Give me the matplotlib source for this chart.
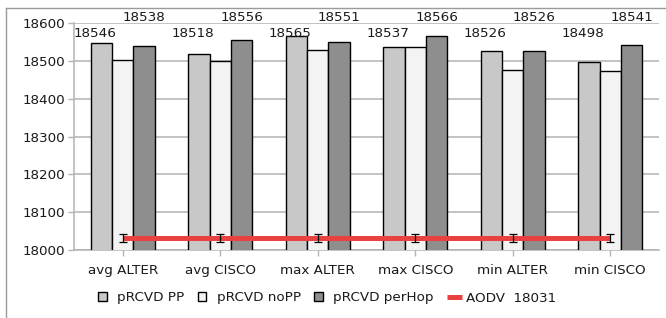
import matplotlib
matplotlib.use("Agg")
import matplotlib.pyplot as plt
import numpy as np
from matplotlib.lines import Line2D
from matplotlib.patches import Rectangle
from matplotlib.legend_handler import HandlerPatch

categories = ["avg ALTER", "avg CISCO", "max ALTER", "max CISCO", "min ALTER", "min CISCO"]
pp = [18546, 18518, 18565, 18537, 18526, 18498]
nopp = [18502, 18500, 18529, 18537, 18477, 18473]
perhop = [18538, 18556, 18551, 18566, 18526, 18541]
aodv = [18031, 18031, 18031, 18031, 18031, 18031]
aodv_err = [10, 10, 10, 10, 10, 10]
yticks = [18000, 18100, 18200, 18300, 18400, 18500, 18600]
series_names = ["pRCVD PP", "pRCVD noPP", "pRCVD perHop"]
aodv_label = "AODV  18031"

FS = 9.7
TXT = "#1a1a1a"
GRID = "#b3b3b3"
COLORS = ["#c8c8c8", "#f3f3f3", "#8e8e8e"]
RED = "#e8413f"
plt.rcParams['font.family'] = ['DejaVu Sans']

fig = plt.figure(figsize=(6.66, 3.18), dpi=100)
ax = fig.add_axes([74/666, 1-250/318, (659-74)/666, (250-23)/318])

x = np.arange(len(categories))
w = 0.22
for off, vals, c in zip([-w, 0, w], [pp, nopp, perhop], COLORS):
    ax.bar(x + off, vals, w, color=c, edgecolor="black", linewidth=1.0, zorder=3)
ax.plot(x, aodv, color=RED, linewidth=3.6, zorder=4, solid_capstyle="butt")
ax.errorbar(x, aodv, yerr=aodv_err, fmt="none", ecolor="black", elinewidth=0.9, capsize=2.6, capthick=0.9, zorder=5)

for xi, v in zip(x, pp):
    ax.annotate(str(v), xy=(xi - w, 0.952), xycoords=("data", "axes fraction"),
                xytext=(-4.3, 0), textcoords="offset points",
                ha="center", va="center", fontsize=FS, color=TXT, zorder=6)
for xi, v in zip(x, perhop):
    ax.annotate(str(v), xy=(xi + w, 1.024), xycoords=("data", "axes fraction"),
                ha="center", va="center", fontsize=FS, color=TXT, annotation_clip=False, zorder=6)

ax.set_xlim(-0.5, len(categories) - 0.5)
ax.set_ylim(18000, 18600)
ax.set_yticks(yticks)
ax.set_yticklabels([str(t) for t in yticks])
ax.set_xticks(x)
ax.set_xticklabels(categories)
ax.tick_params(axis="both", labelsize=FS, colors=GRID, labelcolor=TXT, width=1.0)
ax.tick_params(axis="y", length=4.5, pad=2)
ax.tick_params(axis="x", length=4, pad=6)
ax.yaxis.grid(True, color=GRID, linewidth=1.1, zorder=0)
ax.set_axisbelow(True)
for s in ["top", "right"]:
    ax.spines[s].set_visible(False)
for s in ["left", "bottom"]:
    ax.spines[s].set_color(GRID)
    ax.spines[s].set_linewidth(1.1)

# frame lines
fig.add_artist(Line2D([6/666, 1.0], [1-8/318, 1-8/318], transform=fig.transFigure, color="#9a9a9a", linewidth=1.0))
fig.add_artist(Line2D([6/666, 6/666], [0, 1-8/318], transform=fig.transFigure, color="#9a9a9a", linewidth=1.0))

def square(legend, orig_handle, xdescent, ydescent, width, height, fontsize):
    s = height * 1.0
    return Rectangle((-xdescent, -ydescent + (height - s) / 2), s, s)

handles = [Rectangle((0, 0), 1, 1, facecolor=c, edgecolor="black", linewidth=1.0) for c in COLORS]
handles.append(Line2D([], [], color=RED, linewidth=3.6, solid_capstyle="butt"))
labels = series_names + [aodv_label]
hm = {h: HandlerPatch(patch_func=square) for h in handles[:3]}
leg = fig.legend(handles, labels, loc="center", bbox_to_anchor=(327/666, 20/318), ncol=4,
                 frameon=False, fontsize=FS, handlelength=1.1, handleheight=0.6,
                 handletextpad=0.3, columnspacing=1.0, handler_map=hm, borderpad=0)
for t in leg.get_texts():
    t.set_color(TXT)

fig.savefig("out.png", dpi=100)
